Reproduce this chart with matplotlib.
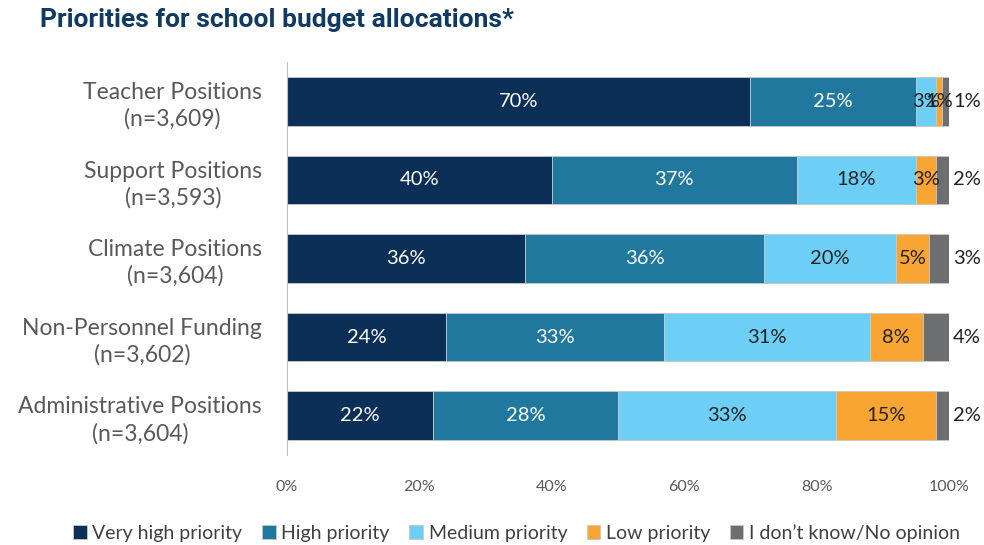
import numpy as np
import matplotlib.pyplot as plt

categories = ["Teacher Positions\n(n=3,609)", "Support Positions\n(n=3,593)",
              "Climate Positions\n(n=3,604)", "Non-Personnel Funding\n(n=3,602)",
              "Administrative Positions\n(n=3,604)"]
series = ["Very high priority", "High priority", "Medium priority",
          "Low priority", "I don\u2019t know/No opinion"]
very_high = [70, 40, 36, 24, 22]
high = [25, 37, 36, 33, 28]
medium = [3, 18, 20, 31, 33]
low = [1, 3, 5, 8, 15]
dont_know = [1, 2, 3, 4, 2]

colors = ["#0c2f57", "#21789f", "#6dcff6", "#f9a533", "#6d6e70"]
text_colors = ["white", "white", "#222222", "#222222", "#222222"]

plt.rcParams['font.family'] = ['Lato', 'DejaVu Sans']

fig = plt.figure(figsize=(9.84, 5.45), dpi=100)
ax = fig.add_axes([287 / 984, 1 - 455 / 545, 662 / 984, 393 / 545])

y = np.arange(len(categories))
left = np.zeros(len(categories))
data = [very_high, high, medium, low, dont_know]
for i, vals in enumerate(data):
    vals = np.array(vals, dtype=float)
    ax.barh(y, vals, left=left, height=0.62, color=colors[i],
            edgecolor="#c8c8c8", linewidth=0.6, label=series[i])
    for j, v in enumerate(vals):
        if i == 4:
            ax.text(left[j] + v + 0.6, y[j], f"{int(v)}%", va="center", ha="left",
                    fontsize=14.5, color="#222222")
        else:
            ax.text(left[j] + v / 2, y[j], f"{int(v)}%", va="center", ha="center",
                    fontsize=14.5, color=text_colors[i])
    left += vals

ax.set_ylim(len(categories) - 0.5, -0.5)
ax.set_xlim(0, 100)
ax.set_yticks(y)
ax.set_yticklabels(categories, fontsize=16.5, color="#595959", ha="right",
                   multialignment="center", linespacing=1.3)
ax.tick_params(axis="y", length=0, pad=18)
ax.set_xticks(np.arange(0, 101, 20))
ax.set_xticklabels([f"{t}%" for t in range(0, 101, 20)], fontsize=11.5, color="#595959")
ax.tick_params(axis="x", length=0, pad=18)
for s in ["top", "right", "bottom"]:
    ax.spines[s].set_visible(False)
ax.spines["left"].set_color("#bfbfbf")

fig.text(40 / 984, 1 - 20 / 545, "Priorities for school budget allocations*",
         fontsize=19, fontweight="bold", color="#0e3a64", va="center",
         family="Roboto")

fig.legend(loc="center", bbox_to_anchor=(0.525, 1 - 533 / 545), ncol=5,
           frameon=False, fontsize=14, handlelength=0.7, handleheight=0.7,
           handletextpad=0.3, columnspacing=1.0, labelcolor="#404040")

fig.savefig("out.png", dpi=100)
